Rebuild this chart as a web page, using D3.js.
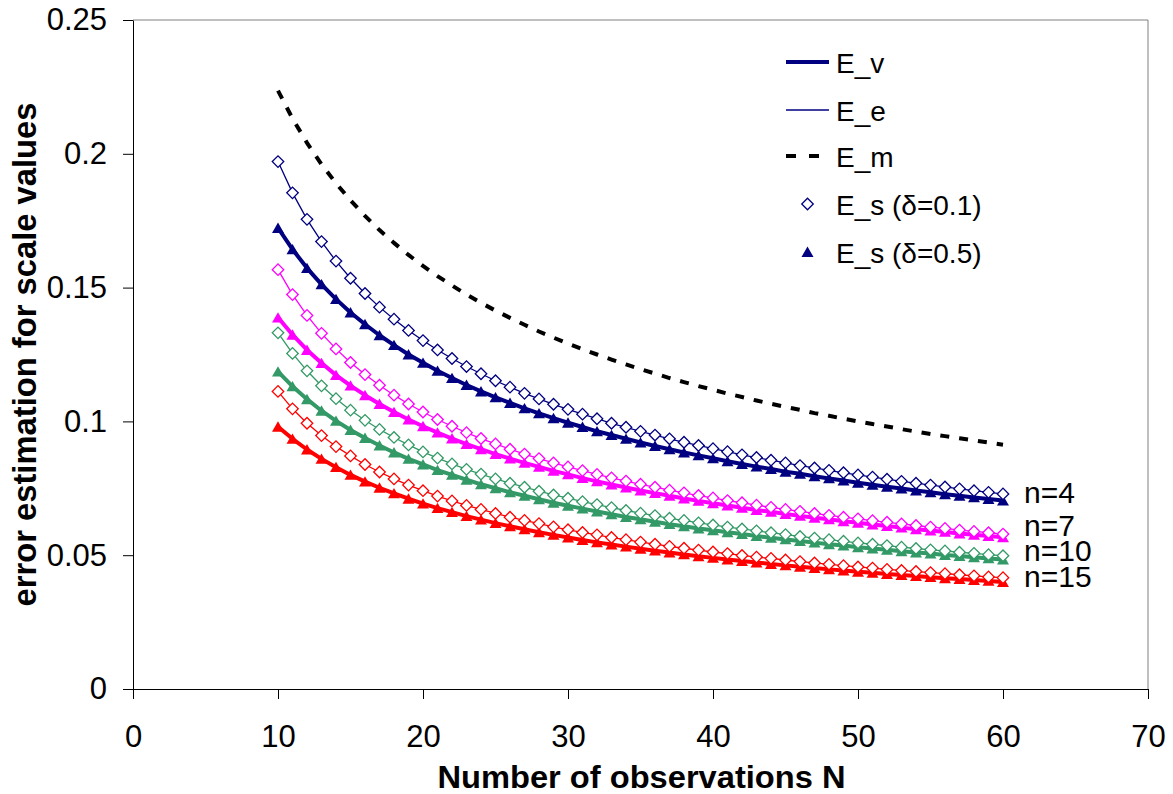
<!DOCTYPE html>
<html>
<head>
<meta charset="utf-8">
<script src="https://cdn.jsdelivr.net/npm/d3@7"></script>
<style>
  body { margin: 0; background: #fff; }
  svg { font-family: "Liberation Sans", Arial, sans-serif; }
</style>
</head>
<body>
<div id="chart"></div>
<script>
// number of observations
var N = [10,11,12,13,14,15,16,17,18,19,20,21,22,23,24,25,26,27,28,29,30,
         31,32,33,34,35,36,37,38,39,40,41,42,43,44,45,46,47,48,49,50,
         51,52,53,54,55,56,57,58,59,60];

// E_m (dashed, black)
var Em = [0.2236,0.2132,0.2041,0.1961,0.1890,0.1826,0.1768,0.1715,0.1667,0.1622,0.1581,
          0.1543,0.1508,0.1474,0.1443,0.1414,0.1387,0.1361,0.1336,0.1313,0.1291,
          0.1270,0.1250,0.1231,0.1213,0.1195,0.1179,0.1162,0.1147,0.1132,0.1118,
          0.1104,0.1091,0.1078,0.1066,0.1054,0.1043,0.1031,0.1021,0.1010,0.1000,
          0.0990,0.0981,0.0971,0.0962,0.0953,0.0945,0.0937,0.0929,0.0921,0.0913];

// E_v (thick lines)
var Ev4 = [0.1723,0.1643,0.1573,0.1512,0.1457,0.1407,0.1363,0.1322,0.1285,0.1250,0.1219,
           0.1189,0.1162,0.1136,0.1112,0.1090,0.1069,0.1049,0.1030,0.1012,0.0995,
           0.0979,0.0963,0.0949,0.0935,0.0921,0.0908,0.0896,0.0884,0.0873,0.0862,
           0.0851,0.0841,0.0831,0.0822,0.0812,0.0804,0.0795,0.0787,0.0779,0.0771,
           0.0763,0.0756,0.0749,0.0742,0.0735,0.0728,0.0722,0.0716,0.0710,0.0704];
var Ev7 = [0.1388,0.1324,0.1267,0.1218,0.1173,0.1134,0.1098,0.1065,0.1035,0.1007,0.0982,
           0.0958,0.0936,0.0915,0.0896,0.0878,0.0861,0.0845,0.0830,0.0815,0.0802,
           0.0788,0.0776,0.0764,0.0753,0.0742,0.0732,0.0722,0.0712,0.0703,0.0694,
           0.0686,0.0677,0.0669,0.0662,0.0654,0.0647,0.0640,0.0634,0.0627,0.0621,
           0.0615,0.0609,0.0603,0.0597,0.0592,0.0587,0.0581,0.0576,0.0572,0.0567];
var Ev10 = [0.1186,0.1131,0.1083,0.1040,0.1002,0.0968,0.0938,0.0910,0.0884,0.0860,0.0839,
            0.0818,0.0800,0.0782,0.0765,0.0750,0.0735,0.0722,0.0709,0.0696,0.0685,
            0.0674,0.0663,0.0653,0.0643,0.0634,0.0625,0.0616,0.0608,0.0600,0.0593,
            0.0586,0.0579,0.0572,0.0565,0.0559,0.0553,0.0547,0.0541,0.0536,0.0530,
            0.0525,0.0520,0.0515,0.0510,0.0506,0.0501,0.0497,0.0492,0.0488,0.0484];
var Ev15 = [0.0980,0.0935,0.0895,0.0860,0.0829,0.0800,0.0775,0.0752,0.0731,0.0711,0.0693,
            0.0676,0.0661,0.0646,0.0633,0.0620,0.0608,0.0597,0.0586,0.0576,0.0566,
            0.0557,0.0548,0.0540,0.0532,0.0524,0.0517,0.0510,0.0503,0.0496,0.0490,
            0.0484,0.0478,0.0473,0.0467,0.0462,0.0457,0.0452,0.0447,0.0443,0.0438,
            0.0434,0.0430,0.0426,0.0422,0.0418,0.0414,0.0411,0.0407,0.0404,0.0400];

// E_e (thin lines)
var Ee4 = [0.1971,0.1854,0.1755,0.1672,0.1599,0.1535,0.1478,0.1427,0.1382,0.1340,0.1302,
           0.1267,0.1235,0.1205,0.1178,0.1152,0.1128,0.1105,0.1084,0.1064,0.1045,
           0.1027,0.1010,0.0993,0.0978,0.0963,0.0949,0.0935,0.0922,0.0910,0.0898,
           0.0887,0.0875,0.0865,0.0855,0.0845,0.0835,0.0826,0.0817,0.0808,0.0800,
           0.0792,0.0784,0.0776,0.0769,0.0762,0.0755,0.0748,0.0741,0.0735,0.0729];
var Ee7 = [0.1567,0.1474,0.1396,0.1329,0.1271,0.1220,0.1175,0.1135,0.1098,0.1065,0.1035,
           0.1007,0.0982,0.0958,0.0936,0.0916,0.0896,0.0878,0.0861,0.0845,0.0830,
           0.0816,0.0802,0.0789,0.0777,0.0765,0.0754,0.0743,0.0733,0.0723,0.0714,
           0.0704,0.0696,0.0687,0.0679,0.0671,0.0664,0.0656,0.0649,0.0642,0.0636,
           0.0629,0.0623,0.0617,0.0611,0.0605,0.0600,0.0594,0.0589,0.0584,0.0579];
var Ee10 = [0.1331,0.1254,0.1189,0.1133,0.1085,0.1042,0.1004,0.0970,0.0940,0.0912,0.0886,
            0.0863,0.0841,0.0821,0.0803,0.0785,0.0769,0.0754,0.0739,0.0725,0.0713,
            0.0700,0.0689,0.0678,0.0667,0.0657,0.0648,0.0638,0.0630,0.0621,0.0613,
            0.0605,0.0598,0.0591,0.0584,0.0577,0.0570,0.0564,0.0558,0.0552,0.0546,
            0.0541,0.0536,0.0530,0.0525,0.0520,0.0516,0.0511,0.0507,0.0502,0.0498];
var Ee15 = [0.1112,0.1047,0.0993,0.0947,0.0906,0.0871,0.0839,0.0811,0.0785,0.0762,0.0741,
            0.0721,0.0703,0.0686,0.0671,0.0656,0.0642,0.0630,0.0618,0.0606,0.0595,
            0.0585,0.0576,0.0566,0.0558,0.0549,0.0541,0.0533,0.0526,0.0519,0.0512,
            0.0506,0.0499,0.0493,0.0488,0.0482,0.0476,0.0471,0.0466,0.0461,0.0456,
            0.0452,0.0447,0.0443,0.0439,0.0435,0.0431,0.0427,0.0423,0.0419,0.0416];

// E_s markers sit on the curves: delta=0.1 on E_e, delta=0.5 on E_v
var Es01_4 = Ee4, Es01_7 = Ee7, Es01_10 = Ee10, Es01_15 = Ee15;
var Es05_4 = Ev4, Es05_7 = Ev7, Es05_10 = Ev10, Es05_15 = Ev15;

var nLabels = ["n=4", "n=7", "n=10", "n=15"];
var nColors = ["#000080", "#FF00FF", "#339966", "#FF0000"];
var legendLabels = ["E_v", "E_e", "E_m", "E_s (\u03b4=0.1)", "E_s (\u03b4=0.5)"];
var xTicks = [0, 10, 20, 30, 40, 50, 60, 70];
var yTicks = [0, 0.05, 0.1, 0.15, 0.2, 0.25];
var yTickLabels = ["0", "0.05", "0.1", "0.15", "0.2", "0.25"];

var groups = [
  {label: nLabels[0], color: nColors[0], ev: Ev4, ee: Ee4, s01: Es01_4, s05: Es05_4, off: 2},
  {label: nLabels[1], color: nColors[1], ev: Ev7, ee: Ee7, s01: Es01_7, s05: Es05_7, off: -1},
  {label: nLabels[2], color: nColors[2], ev: Ev10, ee: Ee10, s01: Es01_10, s05: Es05_10, off: 2},
  {label: nLabels[3], color: nColors[3], ev: Ev15, ee: Ee15, s01: Es01_15, s05: Es05_15, off: 5}
];

var w = 1173, h = 794;
var pLeft = 133, pRight = 1148, pTop = 20, pBottom = 689;

var svg = d3.select("#chart").append("svg")
  .attr("width", w)
  .attr("height", h);

var xScale = d3.scaleLinear().domain([0, 70]).range([pLeft, pRight]);
var yScale = d3.scaleLinear().domain([0, 0.25]).range([pBottom, pTop]);

// plot frame (top and right)
svg.append("path")
  .attr("d", "M" + pLeft + "," + pTop + "H" + pRight + "V" + pBottom)
  .attr("fill", "none")
  .attr("stroke", "#808080")
  .attr("stroke-width", 1);

// axes
var xAxis = d3.axisBottom(xScale).tickValues(xTicks).tickSize(10).tickSizeOuter(0).tickPadding(26);
var yAxis = d3.axisLeft(yScale).tickValues(yTicks).tickSize(10).tickSizeOuter(0).tickPadding(16)
  .tickFormat(function(d, i) { return yTickLabels[i]; });

var gx = svg.append("g")
  .attr("transform", "translate(0," + pBottom + ")")
  .call(xAxis);
var gy = svg.append("g")
  .attr("transform", "translate(" + pLeft + ",0)")
  .call(yAxis);

[gx, gy].forEach(function(g) {
  g.selectAll("path, line").attr("stroke", "#000").attr("stroke-width", 1);
  g.selectAll("text").attr("font-size", 31).attr("fill", "#000")
    .attr("font-family", "'Liberation Sans', Arial, sans-serif");
});

// axis titles
svg.append("text")
  .attr("x", (pLeft + pRight) / 2 + 1)
  .attr("y", 788)
  .attr("text-anchor", "middle")
  .attr("font-size", 31)
  .attr("font-weight", "bold")
  .attr("textLength", 408)
  .attr("lengthAdjust", "spacingAndGlyphs")
  .text("Number of observations N");

svg.append("text")
  .attr("transform", "translate(36," + (pTop + pBottom) / 2 + ")rotate(-90)")
  .attr("text-anchor", "middle")
  .attr("font-size", 33)
  .attr("font-weight", "bold")
  .attr("textLength", 504)
  .attr("lengthAdjust", "spacingAndGlyphs")
  .text("error estimation for scale values");

var line = d3.line()
  .x(function(d, i) { return xScale(N[i]); })
  .y(function(d) { return yScale(d); });

// thick E_v lines
groups.forEach(function(g) {
  svg.append("path")
    .datum(g.ev)
    .attr("d", line)
    .attr("fill", "none")
    .attr("stroke", g.color)
    .attr("stroke-width", 4)
    .attr("stroke-linejoin", "round");
});

// thin E_e lines
groups.forEach(function(g) {
  svg.append("path")
    .datum(g.ee)
    .attr("d", line)
    .attr("fill", "none")
    .attr("stroke", g.color)
    .attr("stroke-width", 1.3);
});

// E_m dashed
svg.append("path")
  .datum(Em)
  .attr("d", line)
  .attr("fill", "none")
  .attr("stroke", "#000")
  .attr("stroke-width", 4)
  .attr("stroke-dasharray", "9,10");

var triangle = d3.symbol().type(d3.symbolTriangle).size(62);
var diamond = d3.symbol().type(d3.symbolSquare).size(66);

// E_s (delta=0.5) triangles
groups.forEach(function(g) {
  svg.append("g").selectAll("path")
    .data(g.s05)
    .enter()
    .append("path")
    .attr("d", triangle)
    .attr("transform", function(d, i) {
      return "translate(" + xScale(N[i]) + "," + (yScale(d) + 1.5) + ")";
    })
    .attr("fill", g.color);
});

// E_s (delta=0.1) diamonds
groups.forEach(function(g) {
  svg.append("g").selectAll("path")
    .data(g.s01)
    .enter()
    .append("path")
    .attr("d", diamond)
    .attr("transform", function(d, i) {
      return "translate(" + xScale(N[i]) + "," + yScale(d) + ")rotate(45)";
    })
    .attr("fill", "#fff")
    .attr("stroke", g.color)
    .attr("stroke-width", 1.3);
});

// n labels at the right end of the curves
groups.forEach(function(g) {
  svg.append("text")
    .attr("x", xScale(N[N.length - 1]) + 21)
    .attr("y", yScale(g.ev[g.ev.length - 1]) + g.off)
    .attr("font-size", 30)
    .text(g.label);
});

// legend
var lx0 = 786, lx1 = 829, tx = 836;
var rows = [62, 110, 156, 204, 252];
var leg = svg.append("g");

leg.append("line").attr("x1", lx0).attr("x2", lx1).attr("y1", rows[0]).attr("y2", rows[0])
  .attr("stroke", nColors[0]).attr("stroke-width", 4);
leg.append("line").attr("x1", lx0).attr("x2", lx1).attr("y1", rows[1]).attr("y2", rows[1])
  .attr("stroke", nColors[0]).attr("stroke-width", 1.3);
leg.append("line").attr("x1", lx0).attr("x2", lx1).attr("y1", rows[2]).attr("y2", rows[2])
  .attr("stroke", "#000").attr("stroke-width", 4).attr("stroke-dasharray", "10,13");
leg.append("path").attr("d", diamond)
  .attr("transform", "translate(" + (lx0 + lx1) / 2 + "," + rows[3] + ")rotate(45)")
  .attr("fill", "#fff").attr("stroke", nColors[0]).attr("stroke-width", 1.3);
leg.append("path").attr("d", triangle)
  .attr("transform", "translate(" + (lx0 + lx1) / 2 + "," + (rows[4] + 1.5) + ")")
  .attr("fill", nColors[0]);

leg.selectAll("text")
  .data(legendLabels)
  .enter()
  .append("text")
  .attr("x", tx)
  .attr("y", function(d, i) { return rows[i] + 11; })
  .attr("font-size", 28)
  .text(function(d) { return d; });
</script>
</body>
</html>
